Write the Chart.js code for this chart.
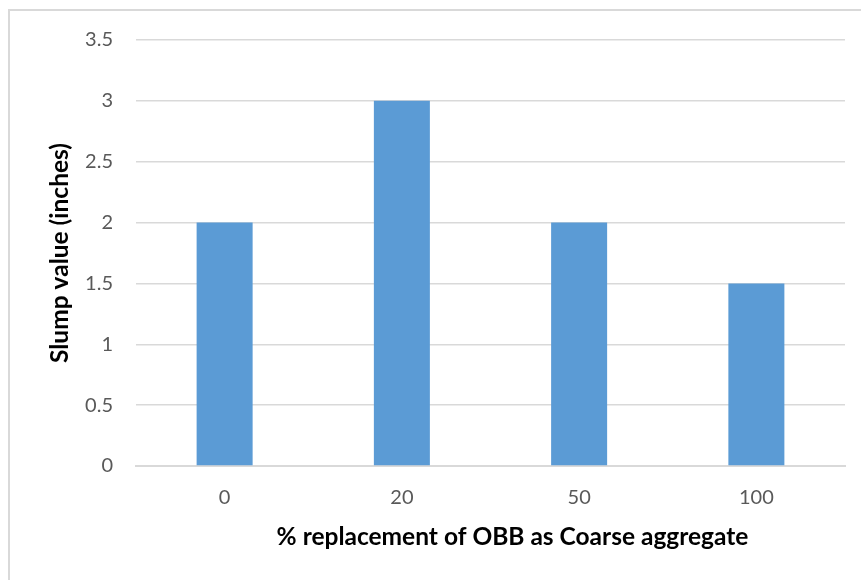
<!DOCTYPE html>
<html>
<head>
<meta charset="utf-8">
<script src="https://cdn.jsdelivr.net/npm/chart.js@4"></script>
<style>
  html, body { margin: 0; padding: 0; background: #fff; }
  #wrap { width: 861px; height: 580px; }
</style>
</head>
<body>
<div id="wrap"><canvas id="c" width="861" height="580"></canvas></div>
<script>
// Slump of concrete for each OBB replacement level
const replacementLevels = ['0', '20', '50', '100'];
const slumpInches = [2, 3, 2, 1.5];
const xTitle = '% replacement of OBB as Coarse aggregate';
const yTitle = 'Slump value (inches)';

const FONT = 'Lato, "Open Sans", "Liberation Sans", sans-serif';
const GRID = '#D9D9D9';

// outer frame and axis titles
const decorations = {
  id: 'decorations',
  beforeDraw(chart) {
    const ctx = chart.ctx;
    ctx.save();
    ctx.fillStyle = '#fff';
    ctx.fillRect(0, 0, chart.width, chart.height);
    ctx.strokeStyle = GRID;
    ctx.lineWidth = 2;
    ctx.strokeRect(9, 10, chart.width + 20, chart.height + 20);
    ctx.restore();
  },
  afterDraw(chart) {
    const ctx = chart.ctx;
    const a = chart.chartArea;
    ctx.save();
    ctx.fillStyle = '#000';
    ctx.font = 'bold 24.5px ' + FONT;
    ctx.textAlign = 'center';
    ctx.textBaseline = 'middle';
    ctx.fillText(xTitle, (a.left + a.right) / 2 + 22, 537);
    ctx.translate(60, (a.top + a.bottom) / 2);
    ctx.rotate(-Math.PI / 2);
    ctx.fillText(yTitle, 0, 0);
    ctx.restore();
  }
};

new Chart(document.getElementById('c'), {
  type: 'bar',
  data: {
    labels: replacementLevels,
    datasets: [{
      data: slumpInches,
      backgroundColor: '#5B9BD5',
      borderWidth: 0,
      categoryPercentage: 1,
      barPercentage: 0.316
    }]
  },
  options: {
    responsive: false,
    animation: false,
    devicePixelRatio: 1,
    layout: { padding: { top: 40, right: 16, bottom: 0, left: 0 } },
    plugins: { legend: { display: false }, tooltip: { enabled: false } },
    scales: {
      x: {
        grid: { display: false, drawTicks: false },
        border: { display: true, color: GRID, width: 2 },
        ticks: { color: '#595959', font: { family: FONT, size: 20 }, padding: 20 },
        afterFit(scale) { scale.height = 114; }
      },
      y: {
        min: 0,
        max: 3.5,
        ticks: {
          stepSize: 0.5,
          color: '#595959',
          font: { family: FONT, size: 20 },
          padding: 23,
          callback: (v) => String(v)
        },
        grid: { color: GRID, lineWidth: 1.5, drawTicks: false },
        border: { display: false },
        afterFit(scale) { scale.width = 136; }
      }
    }
  },
  plugins: [decorations]
});
</script>
</body>
</html>
